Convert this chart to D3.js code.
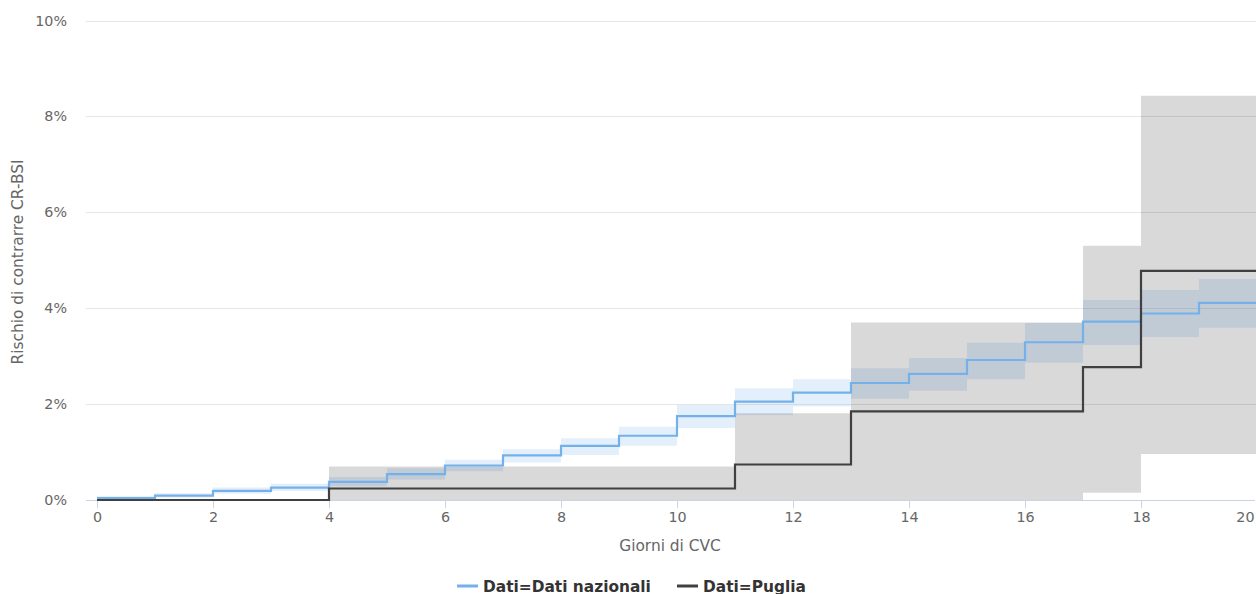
<!DOCTYPE html>
<html>
<head>
<meta charset="utf-8">
<script src="https://cdn.jsdelivr.net/npm/d3@7"></script>
<style>
  body { margin: 0; background: #fff; }
  svg { display: block; font-family: "DejaVu Sans", sans-serif; }
</style>
</head>
<body>
<div id="chart"></div>
<script>
// days of central venous catheter
const days = d3.range(0, 21);

// national data: cumulative risk (%) and confidence band
const nazRisk  = [0.04, 0.09, 0.19, 0.26, 0.38, 0.54, 0.72, 0.93, 1.13, 1.34, 1.75, 2.05, 2.24, 2.44, 2.63, 2.92, 3.29, 3.72, 3.89, 4.11, 4.11];
const nazLow   = [0.01, 0.05, 0.13, 0.19, 0.29, 0.43, 0.60, 0.78, 0.94, 1.13, 1.50, 1.77, 1.95, 2.11, 2.28, 2.52, 2.86, 3.23, 3.40, 3.59, 3.59];
const nazHigh  = [0.08, 0.14, 0.26, 0.34, 0.48, 0.66, 0.84, 1.06, 1.29, 1.53, 1.98, 2.33, 2.52, 2.75, 2.96, 3.28, 3.69, 4.17, 4.38, 4.61, 4.61];

// Puglia: cumulative risk (%) and confidence band (no band before day 4)
const pugRisk  = [0, 0, 0, 0, 0.24, 0.24, 0.24, 0.24, 0.24, 0.24, 0.24, 0.74, 0.74, 1.85, 1.85, 1.85, 1.85, 2.77, 4.78, 4.78, 4.78];
const pugLow   = [null, null, null, null, 0, 0, 0, 0, 0, 0, 0, 0, 0, 0, 0, 0, 0, 0.15, 0.96, 0.96, 0.96];
const pugHigh  = [null, null, null, null, 0.70, 0.70, 0.70, 0.70, 0.70, 0.70, 0.70, 1.81, 1.81, 3.70, 3.70, 3.70, 3.70, 5.30, 8.43, 8.43, 8.43];

const xTicks = d3.range(0, 21, 2);
const yTicks = [0, 2, 4, 6, 8, 10];

const seriesNames = ["Dati=Dati nazionali", "Dati=Puglia"];
const seriesColors = ["#74b1ea", "#404040"];

const W = 1256, H = 594;
const plotLeft = 86;
const tickFont = 14.3, titleFont = 15.4;

const x = d3.scaleLinear().domain([0, 20]).range([97, 1257]);
const y = d3.scaleLinear().domain([0, 10]).range([500, 20.5]);

const svg = d3.select("#chart").append("svg")
  .attr("width", W)
  .attr("height", H);

// gridlines
svg.append("g")
  .selectAll("line")
  .data(yTicks.filter(d => d > 0))
  .join("line")
  .attr("x1", plotLeft)
  .attr("x2", W)
  .attr("y1", d => Math.round(y(d)) + 0.5)
  .attr("y2", d => Math.round(y(d)) + 0.5)
  .attr("stroke", "#e6e6e6")
  .attr("stroke-width", 1);

// bands
const band = (lo, hi) => d3.area()
  .defined((d, i) => lo[i] !== null)
  .x(d => x(d))
  .y0((d, i) => y(lo[i]))
  .y1((d, i) => y(hi[i]))
  .curve(d3.curveStepAfter);

svg.append("path")
  .attr("d", band(nazLow, nazHigh)(days))
  .attr("fill", "rgba(116,177,234,0.2)");

svg.append("path")
  .attr("d", band(pugLow, pugHigh)(days))
  .attr("fill", "rgba(0,0,0,0.15)");

// x axis line and ticks
svg.append("line")
  .attr("x1", plotLeft).attr("x2", 1255)
  .attr("y1", 500.5).attr("y2", 500.5)
  .attr("stroke", "#c8d4e3");

const xAxis = d3.axisBottom(x)
  .tickValues(xTicks)
  .tickSize(8)
  .tickPadding(4)
  .tickFormat(d3.format("d"));

const gx = svg.append("g")
  .attr("transform", "translate(0,500)")
  .call(xAxis);
gx.select(".domain").remove();
gx.selectAll(".tick line").attr("stroke", "#c8d4e3");
gx.selectAll(".tick text")
  .attr("fill", "#666")
  .attr("font-size", tickFont)
  .attr("font-family", "DejaVu Sans, sans-serif");
// keep the last label inside the frame
gx.selectAll(".tick")
  .filter(d => d === 20)
  .select("text")
  .attr("text-anchor", "end")
  .attr("x", -3);

const yAxis = d3.axisLeft(y)
  .tickValues(yTicks)
  .tickSize(0)
  .tickPadding(19)
  .tickFormat(d => d + "%");

const gy = svg.append("g")
  .attr("transform", `translate(${plotLeft},0)`)
  .call(yAxis);
gy.select(".domain").remove();
gy.selectAll(".tick text")
  .attr("fill", "#666")
  .attr("font-size", tickFont)
  .attr("font-family", "DejaVu Sans, sans-serif");

// lines
const stepLine = vals => d3.line()
  .x(d => x(d))
  .y((d, i) => y(vals[i]))
  .curve(d3.curveStepAfter);

svg.append("path")
  .attr("d", stepLine(nazRisk)(days))
  .attr("fill", "none")
  .attr("stroke", seriesColors[0])
  .attr("stroke-width", 2.2);

svg.append("path")
  .attr("d", stepLine(pugRisk)(days))
  .attr("fill", "none")
  .attr("stroke", seriesColors[1])
  .attr("stroke-width", 2.2);

// axis titles
svg.append("text")
  .attr("x", 670)
  .attr("y", 551)
  .attr("text-anchor", "middle")
  .attr("fill", "#666")
  .attr("font-size", titleFont)
  .text("Giorni di CVC");

svg.append("text")
  .attr("transform", "translate(23,262) rotate(-90)")
  .attr("text-anchor", "middle")
  .attr("fill", "#666")
  .attr("font-size", titleFont)
  .text("Rischio di contrarre CR-BSI");

// legend
const legendX = [457, 677];
const legend = svg.append("g")
  .selectAll("g")
  .data(seriesNames)
  .join("g")
  .attr("transform", (d, i) => `translate(${legendX[i]},586)`);

legend.append("line")
  .attr("x1", 0).attr("x2", 21)
  .attr("stroke", (d, i) => seriesColors[i])
  .attr("stroke-width", 3);

legend.append("text")
  .attr("x", 26)
  .attr("y", 5.5)
  .attr("fill", "#333")
  .attr("font-size", titleFont)
  .attr("font-weight", "bold")
  .text(d => d);
</script>
</body>
</html>
